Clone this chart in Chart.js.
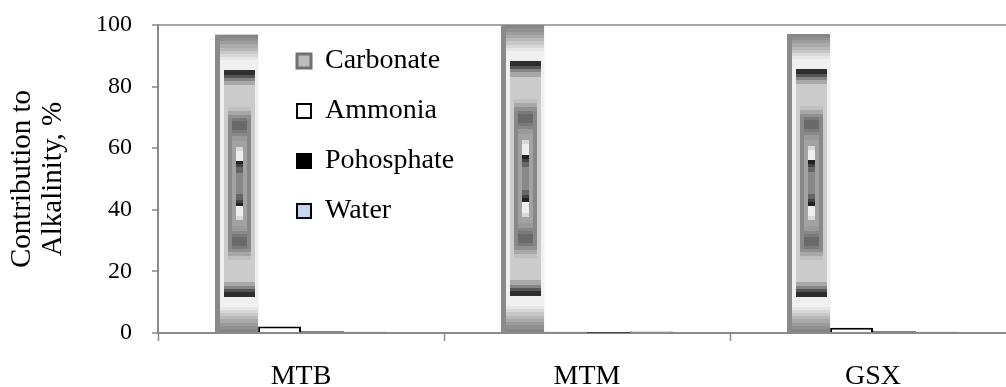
<!DOCTYPE html>
<html>
<head>
<meta charset="utf-8">
<script src="https://cdn.jsdelivr.net/npm/chart.js@4.4.0/dist/chart.umd.min.js"></script>
<style>
  html, body { margin: 0; padding: 0; background: #fff; overflow: hidden; }
  #wrap { width: 1030px; height: 387px; }
</style>
</head>
<body>
<div id="wrap"><canvas id="alkalinityChart" width="1030" height="387"></canvas></div>
<script>
// data
const categories = ['MTB', 'MTM', 'GSX'];
const carbonate = [96.9, 100, 97.1];
const ammonia = [2.1, 0.4, 1.7];
const phosphate = [0.6, 0.1, 0.6];
const water = [0.4, 0.5, 0.4];
const yTicks = [0, 20, 40, 60, 80, 100];

const SERIF = "'Liberation Serif', 'DejaVu Serif', serif";
const AXIS_GRAY = '#8a8a8a';

// grey "rectangle" fill of the carbonate bars, in bar-relative units.
// nested boxes, outer to inner: [uLeft, uRight, distance from top/bottom, shade]
const innerBoxes = [
    [0.302, 0.837, 0.242, 0xc0],
    [0.302, 0.837, 0.255, 0xa8],
    [0.302, 0.837, 0.268, 0x90],
    [0.302, 0.837, 0.279, 0x88],
    [0.395, 0.744, 0.279, 0x7a],
    [0.395, 0.744, 0.289, 0x6a],
    [0.395, 0.744, 0.319, 0x7a],
    [0.395, 0.744, 0.329, 0x88],
    [0.395, 0.744, 0.339, 0x9a],
    [0.395, 0.744, 0.356, 0xa2],
    [0.488, 0.651, 0.376, 0xd8],
    [0.488, 0.651, 0.389, 0xee],
    [0.488, 0.651, 0.423, 0x22],
    [0.488, 0.651, 0.436, 0x44],
    [0.488, 0.651, 0.446, 0x66],
    [0.488, 0.651, 0.463, 0x88]
];
const outerBands = [0x85, 0x90, 0x9c, 0xaa, 0xb8, 0xc8, 0xd8, 0xe6];

function carbonateShade(u, v) {
    const vv = Math.min(v, 1 - v);
    if (u < 0.11) return 0x8a;
    for (let i = innerBoxes.length - 1; i >= 0; i--) {
        const [ul, ur, vt, shade] = innerBoxes[i];
        if (u >= ul && u < ur && vv >= vt) return shade;
    }
    // frame with dark band
    if (u > 0.21 && u < 0.93 && vv >= 0.117) {
        if (vv < 0.134) return 0x2e;
        if (vv < 0.144) return 0x55;
        if (vv < 0.154) return 0x85;
        if (vv < 0.168) return 0xa8;
        return 0xcb;
    }
    if (vv < 0.085) return outerBands[Math.min(7, Math.floor(vv / 0.085 * 8))];
    return 0xf0;
}

function carbonateTexture(w, h) {
    const c = document.createElement('canvas');
    c.width = w;
    c.height = h;
    const g = c.getContext('2d');
    const img = g.createImageData(w, h);
    for (let py = 0; py < h; py++) {
        for (let px = 0; px < w; px++) {
            const shade = carbonateShade((px + 0.5) / w, (py + 0.5) / h);
            const i = (py * w + px) * 4;
            img.data[i] = img.data[i + 1] = img.data[i + 2] = shade;
            img.data[i + 3] = 255;
        }
    }
    g.putImageData(img, 0, 0);
    return c;
}

// paints the texture over each carbonate bar, using the bar element geometry
const carbonateFill = {
    id: 'carbonateFill',
    afterDatasetDraw(chart, args) {
        if (args.index !== 0) return;
        const ctx = chart.ctx;
        args.meta.data.forEach(bar => {
            const { x, y, base, width } = bar.getProps(['x', 'y', 'base', 'width'], true);
            const left = Math.round(x - width / 2);
            const top = Math.round(y);
            const w = Math.round(x + width / 2) - left;
            const h = Math.round(base) - top;
            if (w > 0 && h > 0) ctx.drawImage(carbonateTexture(w, h), left, top);
        });
    }
};

// move the legend inside the plot area
const legendInside = {
    id: 'legendInside',
    afterLayout(chart) {
        const lg = chart.legend;
        const area = chart.chartArea;
        lg.left = area.left + 117;
        lg.top = area.top;
        lg.right = area.right;
        lg.bottom = area.bottom;
    }
};

const ctx = document.getElementById('alkalinityChart').getContext('2d');
new Chart(ctx, {
    type: 'bar',
    data: {
        labels: categories,
        datasets: [
            { label: 'Carbonate', data: carbonate, backgroundColor: '#a0a0a0', borderWidth: 0 },
            { label: 'Ammonia', data: ammonia, backgroundColor: '#ffffff', borderColor: '#000000', borderWidth: 2 },
            { label: 'Pohosphate', data: phosphate, backgroundColor: '#000000', borderColor: '#000000', borderWidth: 2 },
            { label: 'Water', data: water, backgroundColor: '#c6d6ec', borderColor: '#000000', borderWidth: 2 }
        ]
    },
    options: {
        responsive: false,
        animation: false,
        datasets: {
            bar: { barPercentage: 1, categoryPercentage: 0.6 }
        },
        layout: { padding: { top: 25, right: 14, bottom: 0, left: 0 } },
        plugins: {
            tooltip: { enabled: false },
            legend: {
                position: 'chartArea',
                align: 'start',
                labels: {
                    font: { family: SERIF, size: 28 },
                    color: '#000',
                    boxWidth: 14,
                    boxHeight: 14,
                    padding: 22,
                    generateLabels(chart) {
                        const items = Chart.defaults.plugins.legend.labels.generateLabels(chart);
                        items[0].fillStyle = '#bcbcbc';
                        items[0].strokeStyle = '#707070';
                        items[0].lineWidth = 3;
                        return items;
                    }
                }
            }
        },
        scales: {
            x: {
                offset: true,
                grid: { offset: true, drawOnChartArea: false, tickLength: 8, tickColor: AXIS_GRAY, tickWidth: 1.5 },
                border: { color: AXIS_GRAY, width: 2 },
                ticks: { font: { family: SERIF, size: 28 }, color: '#000', padding: 19 },
                afterFit(scale) {
                    scale.height = 54;
                    scale.paddingLeft = 0;
                    scale.paddingRight = 0;
                }
            },
            y: {
                min: 0,
                max: 100,
                afterBuildTicks(scale) { scale.ticks = yTicks.map(v => ({ value: v })); },
                grid: {
                    color: c => (c.tick && c.tick.value === 100) ? '#a6a6a6' : 'rgba(0,0,0,0)',
                    lineWidth: 2,
                    tickLength: 6,
                    tickColor: AXIS_GRAY,
                    tickWidth: 1.5
                },
                border: { color: AXIS_GRAY, width: 2 },
                ticks: { font: { family: SERIF, size: 24 }, color: '#000', padding: 20 },
                title: {
                    display: true,
                    text: ['Contribution to', 'Alkalinity, %'],
                    font: { family: SERIF, size: 29, lineHeight: 1.1 },
                    color: '#000',
                    padding: { top: 6, bottom: 0 }
                },
                afterFit(scale) {
                    scale.width = 158;
                    scale.paddingTop = 0;
                    scale.paddingBottom = 0;
                }
            }
        }
    },
    plugins: [carbonateFill, legendInside]
});
</script>
</body>
</html>
